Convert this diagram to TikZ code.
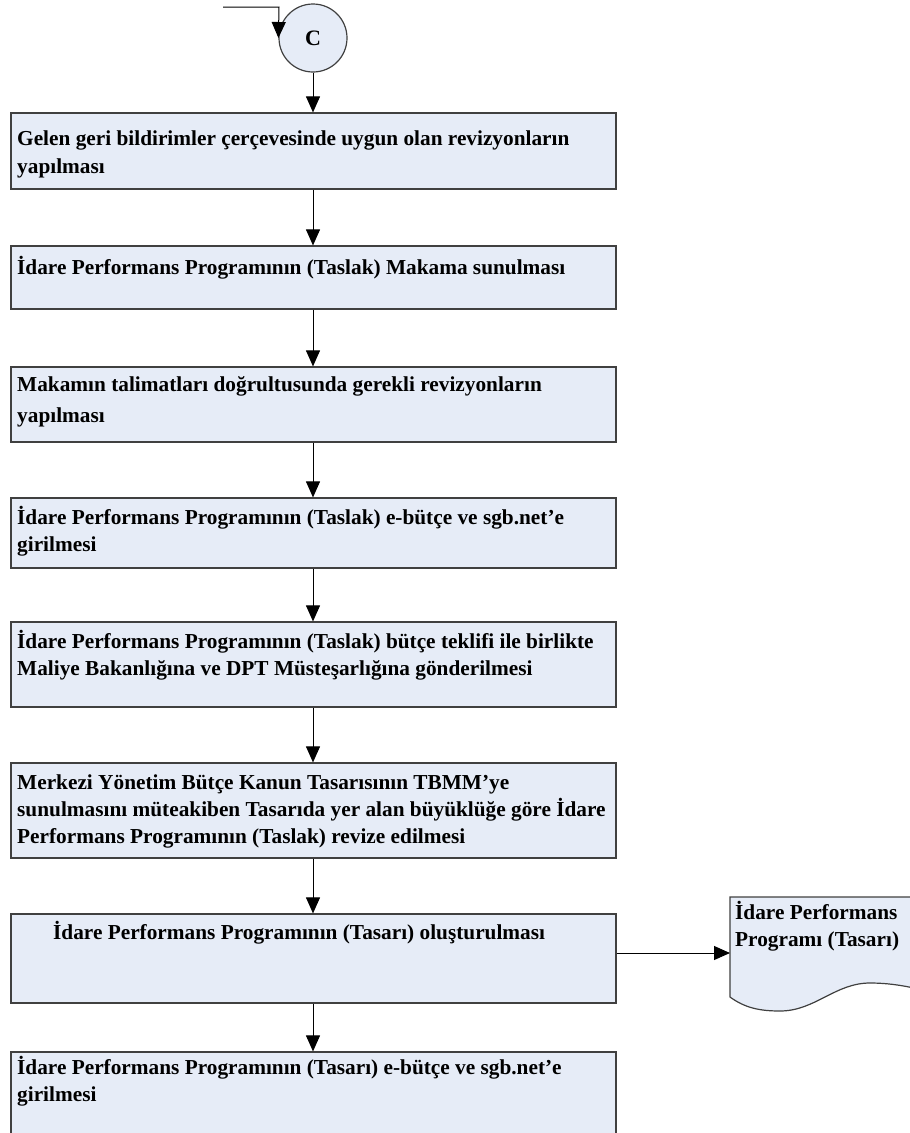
\documentclass[tikz,border=0pt]{standalone}
\usepackage{fontspec}
\setmainfont{Liberation Serif}
\usetikzlibrary{arrows.meta}
\definecolor{boxfill}{HTML}{E6ECF7}
\definecolor{boxdraw}{HTML}{404040}
\begin{document}
\begin{tikzpicture}[x=1pt,y=-1pt,
  stepbox/.style={draw=boxdraw, line width=1.2pt, fill=boxfill, rectangle, minimum width=605pt, inner sep=0pt},
  txt/.style={anchor=base west, inner sep=0pt, font=\fontsize{21.3pt}{27pt}\selectfont\bfseries},
  conn/.style={draw=black, line width=1pt, -{Triangle[length=16pt,width=14pt]}}]
\useasboundingbox (0,0) rectangle (910,1133);
\clip (0,0) rectangle (910,1133);

% connector circle
\node[draw=boxdraw, line width=1.2pt, fill=boxfill, circle, minimum size=68pt, inner sep=0pt,
  font=\fontsize{22pt}{27pt}\selectfont\bfseries] (c) at (313,38) {C};
\coordinate (in0) at (223,7);
\draw[conn] (in0) -- (279,7) -- (c.west);

% boxes
\node[stepbox, minimum height=76pt] (b1) at (313.5,151) {};
\node[stepbox, minimum height=63pt] (b2) at (313.5,277.5) {};
\node[stepbox, minimum height=75pt] (b3) at (313.5,404.5) {};
\node[stepbox, minimum height=70pt] (b4) at (313.5,533) {};
\node[stepbox, minimum height=85pt] (b5) at (313.5,664.5) {};
\node[stepbox, minimum height=95pt] (b6) at (313.5,810.5) {};
\node[stepbox, minimum height=89pt] (b7) at (313.5,958.5) {};
\node[stepbox, minimum height=108pt] (b8) at (313.5,1106) {};

% texts
\node[txt] (t1a) at (17,145) {Gelen geri bildirimler çerçevesinde uygun olan revizyonların};
\node[txt] (t1b) at (17,173) {yapılması};
\node[txt] (t2a) at (17,274) {İdare Performans Programının (Taslak) Makama sunulması};
\node[txt] (t3a) at (17,391) {Makamın talimatları doğrultusunda gerekli revizyonların};
\node[txt] (t3b) at (17,422) {yapılması};
\node[txt] (t4a) at (17,524) {İdare Performans Programının (Taslak) e-bütçe ve sgb.net’e};
\node[txt] (t4b) at (17,551) {girilmesi};
\node[txt] (t5a) at (17,648) {İdare Performans Programının (Taslak) bütçe teklifi ile birlikte};
\node[txt] (t5b) at (17,675) {Maliye Bakanlığına ve DPT Müsteşarlığına gönderilmesi};
\node[txt] (t6a) at (17,789) {Merkezi Yönetim Bütçe Kanun Tasarısının TBMM’ye};
\node[txt] (t6b) at (17,816) {sunulmasını müteakiben Tasarıda yer alan büyüklüğe göre İdare};
\node[txt] (t6c) at (17,843) {Performans Programının (Taslak) revize edilmesi};
\node[txt] (t7a) at (53,939) {İdare Performans Programının (Tasarı) oluşturulması};
\node[txt] (t8a) at (17,1074) {İdare Performans Programının (Tasarı) e-bütçe ve sgb.net’e};
\node[txt] (t8b) at (17,1101) {girilmesi};

% document shape
\draw[draw=boxdraw, line width=1.2pt, fill=boxfill]
  (940,897) -- (730,897) -- (730,997)
  .. controls (745,1008) and (760,1011) .. (780,1011)
  .. controls (815,1011) and (835,983) .. (870,983)
  .. controls (895,983) and (915,988) .. (940,994) -- cycle;
\coordinate (d) at (730,953);
\node[txt] (dta) at (735,919) {İdare Performans};
\node[txt] (dtb) at (735,946) {Programı (Tasarı)};

% connectors
\draw[conn] (c.south) -- (b1.north -| c.south);
\draw[conn] (b1.south -| c.south) -- (b2.north -| c.south);
\draw[conn] (b2.south -| c.south) -- (b3.north -| c.south);
\draw[conn] (b3.south -| c.south) -- (b4.north -| c.south);
\draw[conn] (b4.south -| c.south) -- (b5.north -| c.south);
\draw[conn] (b5.south -| c.south) -- (b6.north -| c.south);
\draw[conn] (b6.south -| c.south) -- (b7.north -| c.south);
\draw[conn] (b7.south -| c.south) -- (b8.north -| c.south);
\draw[conn] (b7.east |- d) -- (d);
\end{tikzpicture}
\end{document}
